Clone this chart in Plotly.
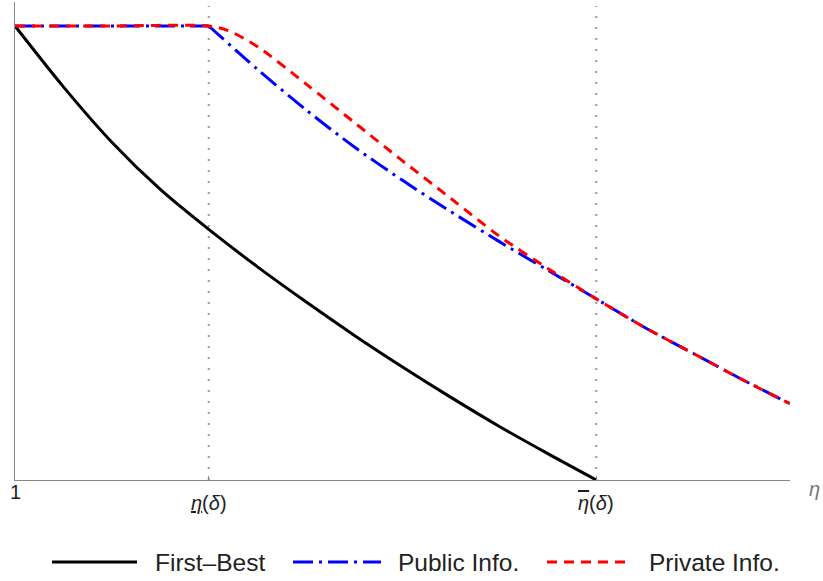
import plotly.graph_objects as go

# ---- data ----
eta_low = 2.0
eta_high = 4.0
x_max = 5.0

fb_x = [1.0, 1.25, 1.5, 1.75, 2.0, 2.25, 2.5, 2.75, 3.0, 3.25, 3.5, 3.75, 4.0]
fb_y = [1.0, 0.866, 0.744, 0.640, 0.552, 0.470, 0.393, 0.319, 0.249, 0.182, 0.118, 0.058, 0.0]

pub_flat_x = [1.0, 2.0]
pub_flat_y = [1.0, 1.0]
pub_x = [2.0, 2.25, 2.5, 2.75, 3.0, 3.25, 3.5, 3.75, 4.0, 4.25, 4.5, 4.75, 5.0]
pub_y = [1.0, 0.905, 0.816, 0.734, 0.660, 0.591, 0.525, 0.462, 0.399, 0.336, 0.279, 0.222, 0.168]

priv_x = [1.0, 1.5, 2.0, 2.1, 2.25, 2.5, 2.75, 3.0, 3.25, 3.5, 3.75, 4.0, 4.25, 4.5, 4.75, 5.0]
priv_y = [1.0, 1.0, 1.0, 0.990, 0.955, 0.873, 0.788, 0.703, 0.620, 0.537, 0.466, 0.399,
          0.336, 0.279, 0.222, 0.168]

tick_vals = [1.0, eta_low, eta_high]
tick_text = ["1",
             "<i><u>η</u></i>(<i>δ</i>)",
             "<i><span style='text-decoration:overline'>η</span></i>(<i>δ</i>)"]
series_names = ["First\u2013Best", "Public Info.", "Private Info."]
series_colors = ["#000000", "#0000FF", "#FF0000"]
series_dash = ["solid", "20px,6px,3px,6px", "10px,7px"]

# ---- layout constants (page pixels) ----
W, H = 823, 581
PLOT_L, PLOT_R, PLOT_T, PLOT_B = 15, 790, 2, 480
PW, PH = PLOT_R - PLOT_L, PLOT_B - PLOT_T
ML, MT = PLOT_L, PLOT_T
MR = W - ML - PW
MB = H - MT - PH
FONT = "Liberation Sans, Arial, sans-serif"
Y_TOP = PH / (PLOT_B - 26)  # y = 1 sits at page y = 26


def px_x(p):
    return (p - PLOT_L) / PW


def px_y(p):
    return (PLOT_B - p) / PH


fig = go.Figure()
fig.add_trace(go.Scatter(x=fb_x, y=fb_y, mode="lines", showlegend=False,
                         line=dict(color=series_colors[0], width=3, dash=series_dash[0],
                                   shape="spline", smoothing=0.8)))
fig.add_trace(go.Scatter(x=pub_flat_x, y=pub_flat_y, mode="lines", showlegend=False,
                         line=dict(color=series_colors[1], width=3, dash=series_dash[1])))
fig.add_trace(go.Scatter(x=pub_x, y=pub_y, mode="lines", showlegend=False,
                         line=dict(color=series_colors[1], width=3, dash=series_dash[1],
                                   shape="spline", smoothing=0.8)))
fig.add_trace(go.Scatter(x=priv_x, y=priv_y, mode="lines", showlegend=False,
                         line=dict(color=series_colors[2], width=3, dash=series_dash[2],
                                   shape="spline", smoothing=0.8)))

# dotted reference lines
for xv in [eta_low, eta_high]:
    fig.add_shape(type="line", xref="x", yref="paper", x0=xv, x1=xv, y0=0, y1=px_y(6),
                  line=dict(color="#999999", width=2, dash="2px,9px"), layer="below")

# tick labels as annotations
label_y = [492, 503, 503]
for xv, txt, py in zip(tick_vals, tick_text, label_y):
    fig.add_annotation(x=xv, xref="x", y=px_y(py), yref="paper", text=txt,
                       showarrow=False, xanchor="center", yanchor="middle",
                       font=dict(family=FONT, size=20, color="#222222"))

# axis label
fig.add_annotation(x=px_x(814), xref="paper", y=px_y(489), yref="paper", text="<i>η</i>",
                   showarrow=False, xanchor="center", yanchor="middle",
                   font=dict(family=FONT, size=20, color="#777777"))

# custom legend (samples + labels)
leg_y = px_y(562)
leg_lines = [(52, 137), (293, 381), (547, 628)]
leg_text_x = [153, 396, 647]
for (a, b), tx, name, col, dash in zip(leg_lines, leg_text_x, series_names,
                                        series_colors, series_dash):
    fig.add_shape(type="line", xref="paper", yref="paper", x0=px_x(a), x1=px_x(b),
                  y0=leg_y, y1=leg_y, line=dict(color=col, width=3, dash=dash))
    fig.add_annotation(x=px_x(tx), xref="paper", y=leg_y, yref="paper", text=name,
                       showarrow=False, xanchor="left", yanchor="middle",
                       font=dict(family=FONT, size=24.5, color="#222222"))

fig.update_layout(
    width=W, height=H,
    margin=dict(l=ML, r=MR, t=MT, b=MB, pad=0),
    paper_bgcolor="white", plot_bgcolor="white",
    showlegend=False,
    xaxis=dict(range=[1.0, x_max], tickvals=tick_vals, showticklabels=False,
               ticks="inside", ticklen=4, tickcolor="#888888",
               showline=True, linecolor="#888888", linewidth=1,
               showgrid=False, zeroline=False),
    yaxis=dict(range=[0, Y_TOP], showticklabels=False, ticks="",
               showline=True, linecolor="#888888", linewidth=1,
               showgrid=False, zeroline=False),
)

fig.write_html("out.html", config={"displayModeBar": False},
               post_script="document.body.style.margin='0';document.body.style.overflow='hidden';")
